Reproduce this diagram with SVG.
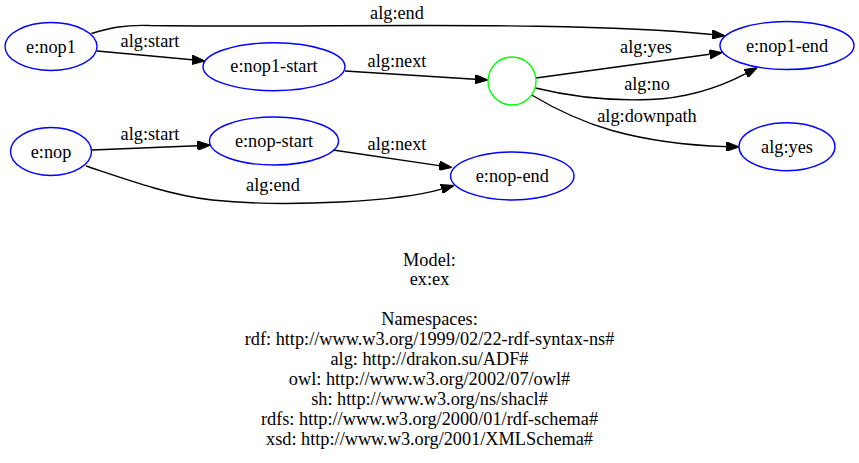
<svg xmlns="http://www.w3.org/2000/svg" width="859" height="463" viewBox="0 0 859 463">
<style>
  text { font-family: "Liberation Serif", "Times New Roman", serif; font-size: 18.3px; fill: #000; text-anchor: middle; }
  .node ellipse, .node circle { fill: none; stroke-width: 1.4; }
  .blue { stroke: #0000ff; }
  .green { stroke: #00ff00; }
  .edge path { fill: none; stroke: #000; stroke-width: 1.4; marker-end: url(#arrow); }
</style>
<defs>
  <marker id="arrow" viewBox="0 0 13 9.4" refX="0" refY="4.7" markerUnits="userSpaceOnUse" markerWidth="13" markerHeight="9.4" orient="auto">
    <path d="M0,0 L13,4.7 L0,9.4 Z" fill="#000" stroke="#000" stroke-width="1"/>
  </marker>
</defs>
<rect width="859" height="463" fill="#fff"/>

<g id="connectors">
  <g class="edge" id="e-nop1-end">
    <path d="M91.5,33.5 C110,28 125,24.5 150,25.5 C330,28 570,20 712,34.5"/>
    <text x="397" y="19">alg:end</text>
  </g>
  <g class="edge" id="e-nop1-start">
    <path d="M97,51 C130,54 160,56.9 192,59.8"/>
    <text x="150" y="47">alg:start</text>
  </g>
  <g class="edge" id="e-nop1-next">
    <path d="M345,71 L475,79.2"/>
    <text x="397" y="67">alg:next</text>
  </g>
  <g class="edge" id="e-yes">
    <path d="M536,78 L709.6,54.3"/>
    <text x="646" y="53">alg:yes</text>
  </g>
  <g class="edge" id="e-no">
    <path d="M535.5,88 C572,97 612,101 650,99.5 C690,98 722,86 745.8,73.6"/>
    <text x="647" y="90">alg:no</text>
  </g>
  <g class="edge" id="e-downpath">
    <path d="M531.7,95 C555,109 582,122 612,130.5 C648,140.5 690,145.5 726.3,146.6"/>
    <text x="647" y="122">alg:downpath</text>
  </g>
  <g class="edge" id="e-nop-start">
    <path d="M92,150 L197.4,145.7"/>
    <text x="150" y="140">alg:start</text>
  </g>
  <g class="edge" id="e-nop-next">
    <path d="M333,150 L439.1,165.6"/>
    <text x="397" y="150">alg:next</text>
  </g>
  <g class="edge" id="e-nop-end">
    <path d="M86,166 C122,178 168,195 212,200 C290,208 400,201 441.5,189.1"/>
    <text x="273" y="191">alg:end</text>
  </g>
</g>

<g class="node" id="n-nop1">
  <ellipse class="blue" cx="51" cy="46.5" rx="46" ry="24"/>
  <text x="51" y="53">e:nop1</text>
</g>
<g class="node" id="n-nop1-start">
  <ellipse class="blue" cx="274" cy="66.7" rx="71" ry="24"/>
  <text x="274" y="72">e:nop1-start</text>
</g>
<g class="node" id="n-decision">
  <circle class="green" cx="512" cy="81" r="24"/>
</g>
<g class="node" id="n-nop1-end">
  <ellipse class="blue" cx="787" cy="45.5" rx="67" ry="24"/>
  <text x="787" y="51.5">e:nop1-end</text>
</g>
<g class="node" id="n-alg-yes">
  <ellipse class="blue" cx="787" cy="146.7" rx="48" ry="24"/>
  <text x="787" y="152.5">alg:yes</text>
</g>
<g class="node" id="n-nop">
  <ellipse class="blue" cx="51" cy="151.5" rx="40.5" ry="24"/>
  <text x="51" y="158">e:nop</text>
</g>
<g class="node" id="n-nop-start">
  <ellipse class="blue" cx="274" cy="141" rx="64.5" ry="24"/>
  <text x="274" y="147">e:nop-start</text>
</g>
<g class="node" id="n-nop-end">
  <ellipse class="blue" cx="512.3" cy="176" rx="61.7" ry="24"/>
  <text x="512.3" y="182">e:nop-end</text>
</g>

<g id="legend">
  <text x="429.5" y="266">Model:</text>
  <text x="429.5" y="285">ex:ex</text>
  <text x="429.5" y="325">Namespaces:</text>
  <text x="429.5" y="345">rdf: http://www.w3.org/1999/02/22-rdf-syntax-ns#</text>
  <text x="429.5" y="365">alg: http://drakon.su/ADF#</text>
  <text x="429.5" y="385">owl: http://www.w3.org/2002/07/owl#</text>
  <text x="429.5" y="405">sh: http://www.w3.org/ns/shacl#</text>
  <text x="429.5" y="425">rdfs: http://www.w3.org/2000/01/rdf-schema#</text>
  <text x="429.5" y="445">xsd: http://www.w3.org/2001/XMLSchema#</text>
</g>
</svg>
